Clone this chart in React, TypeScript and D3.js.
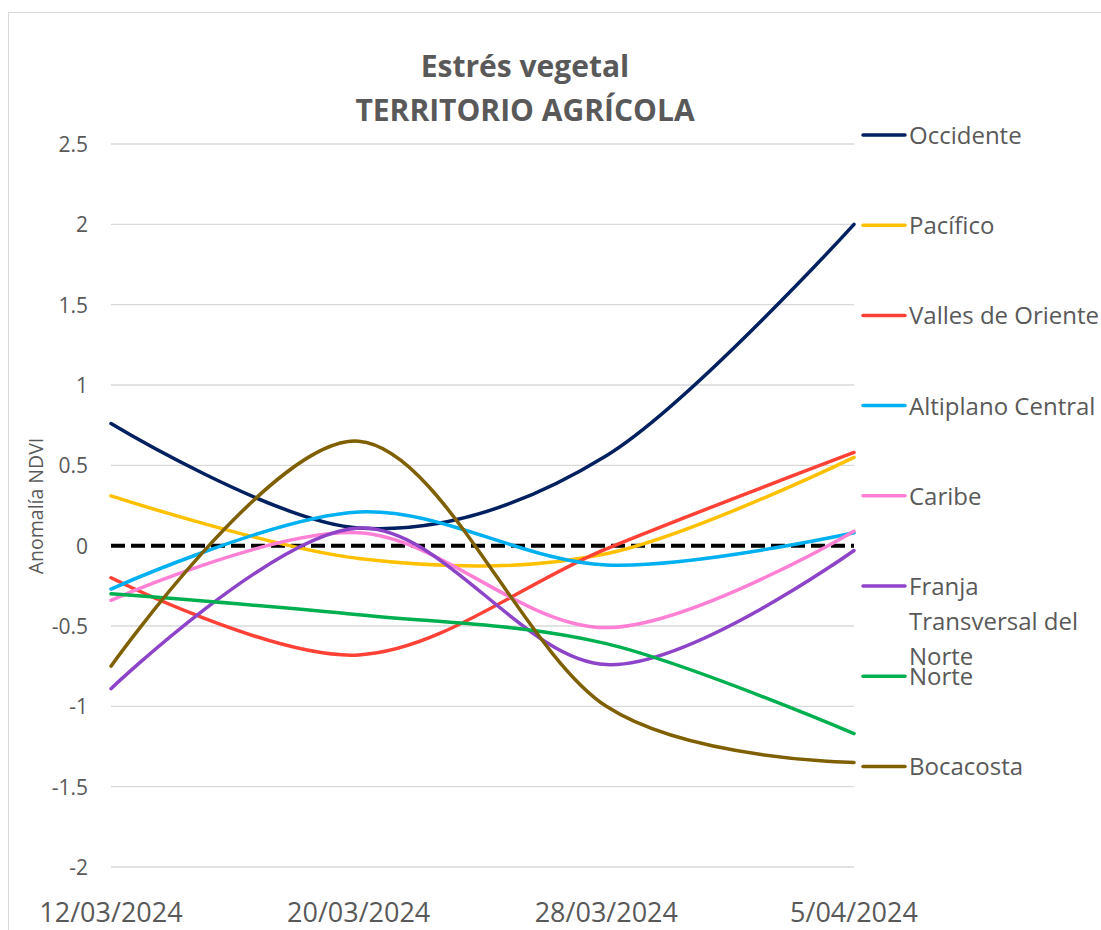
import React, { useEffect, useRef } from 'react'
import * as d3 from 'd3'

const dates = ['12/03/2024', '20/03/2024', '28/03/2024', '5/04/2024']
const yTicks = [-2, -1.5, -1, -0.5, 0, 0.5, 1, 1.5, 2, 2.5]

const seriesNames = [
	'Occidente',
	'Pacífico',
	'Valles de Oriente',
	'Altiplano Central',
	'Caribe',
	'Franja Transversal del Norte',
	'Norte',
	'Bocacosta',
]
const seriesColors = ['#002060', '#FFC000', '#FF4136', '#00B0F0', '#FF80D5', '#8E44C8', '#00B050', '#7F6000']

const occidente = [0.76, 0.11, 0.56, 2.0]
const pacifico = [0.31, -0.08, -0.05, 0.55]
const vallesOriente = [-0.2, -0.68, -0.02, 0.58]
const altiplano = [-0.27, 0.21, -0.12, 0.08]
const caribe = [-0.34, 0.08, -0.51, 0.09]
const franja = [-0.89, 0.11, -0.74, -0.03]
const norte = [-0.3, -0.43, -0.61, -1.17]
const bocacosta = [-0.75, 0.65, -1.0, -1.35]

const seriesValues = [occidente, pacifico, vallesOriente, altiplano, caribe, franja, norte, bocacosta]
// legend text wraps like excel does
const legendLines = [['Occidente'], ['Pacífico'], ['Valles de Oriente'], ['Altiplano Central'], ['Caribe'],
	['Franja', 'Transversal del', 'Norte'], ['Norte'], ['Bocacosta']]

const W = 1101
const H = 930
const font = '"Open Sans", sans-serif'
const grey = '#595959'

export default function App() {
	const ref = useRef<SVGSVGElement>(null)

	useEffect(() => {
		const svg = d3.select(ref.current)
		svg.selectAll('*').remove()

		const x = d3.scalePoint().domain(dates).range([111, 854])
		const y = d3.scaleLinear().domain([-2, 2.5]).range([867, 144])

		svg.append('rect')
			.attr('x', 8.5).attr('y', 12.5)
			.attr('width', 1300).attr('height', 1200)
			.attr('fill', 'white').attr('stroke', '#d9d9d9')

		// gridlines
		svg.append('g')
			.selectAll('line')
			.data(yTicks.filter(d => d !== 0))
			.join('line')
			.attr('x1', 111).attr('x2', 854)
			.attr('y1', d => y(d)).attr('y2', d => y(d))
			.attr('stroke', '#d9d9d9').attr('stroke-width', 1.3)

		svg.append('g')
			.selectAll('text')
			.data(yTicks)
			.join('text')
			.attr('x', 88).attr('y', d => y(d) + 8)
			.attr('text-anchor', 'end')
			.attr('font-family', font).attr('font-size', 21).attr('fill', grey)
			.text(d => String(d))

		svg.append('g')
			.selectAll('text')
			.data(dates)
			.join('text')
			.attr('x', d => x(d)!).attr('y', 922)
			.attr('text-anchor', 'middle')
			.attr('font-family', font).attr('font-size', 27).attr('fill', grey)
			.text(d => d)

		svg.append('text')
			.attr('transform', 'translate(43,506) rotate(-90)')
			.attr('text-anchor', 'middle')
			.attr('font-family', font).attr('font-size', 19.5).attr('fill', grey)
			.text('Anomalía NDVI')

		const title = svg.append('text')
			.attr('text-anchor', 'middle')
			.attr('font-family', font).attr('font-weight', 'bold').attr('font-size', 30).attr('fill', grey)
		title.append('tspan').attr('x', 525).attr('y', 77).text('Estrés vegetal')
		title.append('tspan').attr('x', 525).attr('y', 121).text('TERRITORIO AGRÍCOLA')

		// zero line
		svg.append('line')
			.attr('x1', 111).attr('x2', 854)
			.attr('y1', y(0)).attr('y2', y(0))
			.attr('stroke', 'black').attr('stroke-width', 4)
			.attr('stroke-dasharray', '14 6')

		const line = d3.line<number>()
			.x((d, i) => x(dates[i])!)
			.y(d => y(d))
			.curve(d3.curveCardinal.tension(0))

		svg.append('g')
			.selectAll('path')
			.data(seriesValues)
			.join('path')
			.attr('d', d => line(d))
			.attr('fill', 'none')
			.attr('stroke', (d, i) => seriesColors[i])
			.attr('stroke-width', 3.5)
			.attr('stroke-linecap', 'round')

		const legend = svg.append('g')
			.selectAll('g')
			.data(seriesNames)
			.join('g')
			.attr('transform', (d, i) => `translate(0,${135 + i * 90.2})`)

		legend.append('line')
			.attr('x1', 863).attr('x2', 905)
			.attr('stroke', (d, i) => seriesColors[i])
			.attr('stroke-width', 3.5)
			.attr('stroke-linecap', 'round')

		legend.append('text')
			.attr('font-family', font).attr('font-size', 24).attr('fill', grey)
			.selectAll('tspan')
			.data((d, i) => legendLines[i])
			.join('tspan')
			.attr('x', 909)
			.attr('y', (d, j) => 9 + j * 35)
			.text(d => d)
	}, [])

	return (
		<svg ref={ref} width={W} height={H} style={{ position: 'absolute', left: 0, top: 0, background: 'white' }}></svg>
	)
}
